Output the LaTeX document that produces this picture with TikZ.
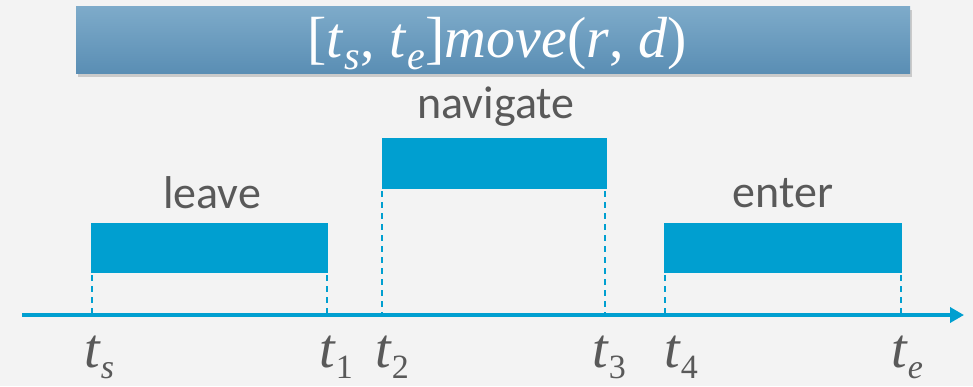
\documentclass[tikz,border=0pt]{standalone}
\usepackage{fontspec}
\setmainfont{Carlito}
\newfontfamily\myserif{Liberation Serif}
\usetikzlibrary{shadows,arrows.meta}
\definecolor{bg}{HTML}{F3F3F3}
\definecolor{barblue}{HTML}{009FD0}
\definecolor{txtgray}{HTML}{595959}
\definecolor{titletop}{HTML}{7EABCA}
\definecolor{titlebot}{HTML}{5A8EB4}
\newcommand{\ti}[1]{{\myserif\itshape t}\kern1pt\raisebox{-0.2em}{\fontsize{34}{34}\selectfont #1}}
\newcommand{\tsub}[1]{\textit{t}\kern1pt\raisebox{-0.22em}{\fontsize{40}{40}\selectfont\itshape #1}}
\begin{document}
\begin{tikzpicture}[x=1pt,y=-1pt,
  bar/.style={fill=barblue,draw=none},
  lbl/.style={text=txtgray,font=\fontsize{46}{46}\selectfont,inner sep=0pt},
  tlbl/.style={text=txtgray,font=\myserif\fontsize{56}{56}\selectfont,inner sep=0pt,anchor=base west},
  guide/.style={draw=barblue,line width=2.2pt,dash pattern=on 6pt off 5pt},
  axisline/.style={draw=barblue,line width=3.5pt,-{Triangle[length=14pt,width=15pt]}}]
\useasboundingbox[fill=bg] (0,0) rectangle (973,386);
% title
\node[draw=none,top color=titletop,bottom color=titlebot,minimum width=834pt,minimum height=67pt,inner sep=0pt,
  drop shadow={shadow xshift=2pt,shadow yshift=-4pt,opacity=0.35}] (title) at (493,39.5) {};
\node[text=white,font=\myserif\fontsize{58}{58}\selectfont,inner sep=0pt,anchor=base] (titletext) at (497,57)
  {[\tsub{s}, \tsub{e}]\textit{move}(\textit{r}, \textit{d})};
% bars
\path[bar] (91,223) rectangle (328,273);
\path[bar] (382,138) rectangle (607,189);
\path[bar] (664,223) rectangle (902,273);
\node[lbl] (leave) at (212,193) {leave};
\node[lbl] (navigate) at (496,107) {navigate};
\node[lbl] (enter) at (783,193) {enter};
% axis
\coordinate (axL) at (22,315);
\coordinate (axR) at (964,315);
\draw[axisline] (axL) -- (axR);
% guides
\foreach \x/\yt in {92/275,327/275,382/191,605/191,665/275,901/275}{
  \draw[guide] (\x,\yt) -- (\x,315);
}
% time labels
\node[tlbl] (ts) at (84,367) {\ti{\itshape s}};
\node[tlbl] (t1) at (319,367) {\ti{1}};
\node[tlbl] (t2) at (375,367) {\ti{2}};
\node[tlbl] (t3) at (592,367) {\ti{3}};
\node[tlbl] (t4) at (664,367) {\ti{4}};
\node[tlbl] (te) at (891,367) {\ti{\itshape e}};
\end{tikzpicture}
\end{document}
